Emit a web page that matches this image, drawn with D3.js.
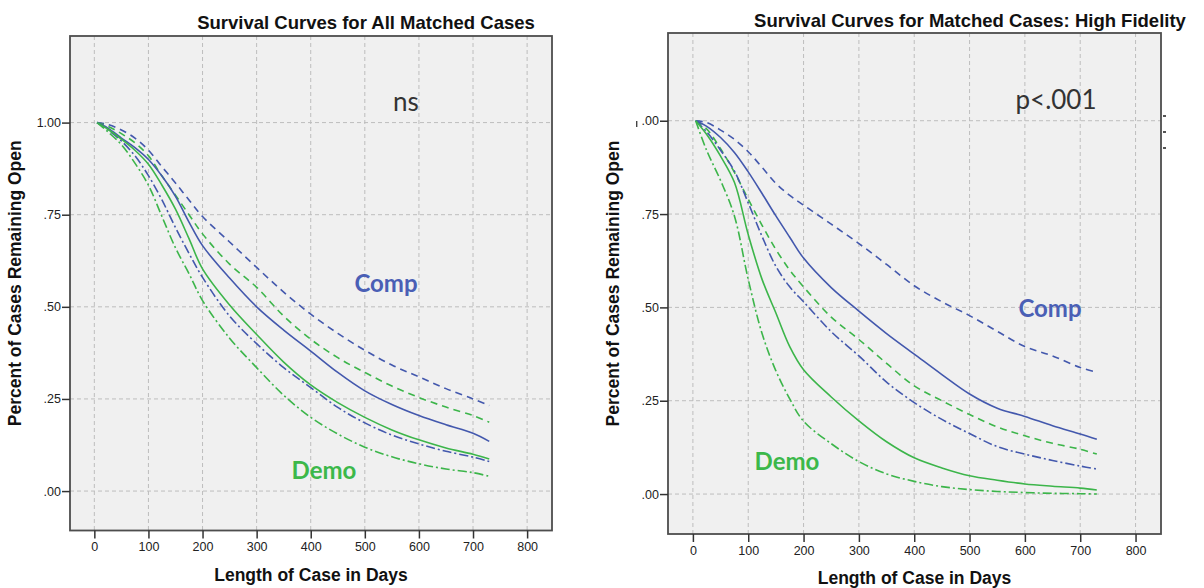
<!DOCTYPE html>
<html>
<head>
<meta charset="utf-8">
<script src="https://cdn.jsdelivr.net/npm/d3@7"></script>
<style>
  body { margin: 0; background: #fff; }
  svg { display: block; }
</style>
</head>
<body>
<div id="chart"></div>
<script>
var days = [5, 25, 50, 75, 100, 125, 150, 175, 200, 250, 300, 350, 400, 450, 500, 550, 600, 650, 700, 730]

// left panel: all matched cases
var allCompMid = [1, .985, .958, .932, .90, .855, .80, .73, .666, .578, .50, .437, .38, .322, .272, .235, .205, .18, .157, .135]
var allCompHi  = [1, .995, .98, .958, .925, .88, .836, .79, .745, .676, .607, .54, .48, .428, .382, .342, .31, .278, .25, .232]
var allCompLo  = [1, .98, .95, .91, .856, .79, .715, .645, .58, .475, .40, .335, .281, .227, .185, .152, .128, .108, .092, .08]
var allDemoMid = [1, .982, .955, .925, .887, .83, .765, .685, .603, .505, .425, .35, .288, .24, .20, .166, .139, .117, .10, .087]
var allDemoHi  = [1, .99, .97, .945, .91, .855, .803, .75, .698, .616, .553, .475, .412, .362, .322, .285, .254, .228, .205, .187]
var allDemoLo  = [1, .975, .94, .89, .83, .745, .66, .59, .517, .415, .335, .26, .20, .155, .119, .093, .074, .06, .05, .04]

// right panel: high fidelity
var hiCompMid = [1, .985, .955, .915, .863, .805, .745, .688, .632, .553, .49, .43, .375, .32, .268, .23, .208, .183, .161, .147]
var hiCompHi  = [1, .995, .975, .95, .917, .875, .832, .80, .774, .723, .671, .615, .558, .515, .478, .436, .395, .37, .339, .326]
var hiCompLo  = [1, .97, .921, .865, .78, .69, .61, .555, .515, .435, .37, .30, .245, .20, .162, .127, .107, .09, .075, .067]
var hiDemoMid = [1, .963, .905, .835, .695, .575, .485, .395, .333, .26, .196, .14, .097, .07, .049, .037, .027, .021, .016, .011]
var hiDemoHi  = [1, .978, .925, .862, .79, .72, .655, .60, .555, .474, .414, .35, .29, .25, .213, .18, .156, .136, .12, .107]
var hiDemoLo  = [1, .92, .84, .745, .575, .43, .33, .255, .195, .135, .087, .054, .034, .02, .012, .007, .004, .002, .001, 0]

var xTicks = [0, 100, 200, 300, 400, 500, 600, 700, 800]
var yTicks = [0, .25, .5, .75, 1]
var yTickText = ['.00', '.25', '.50', '.75', '1.00']

var blue = '#4358ad'
var green = '#3cb54a'

var svg = d3.select('#chart').append('svg')
    .attr('width', 1204)
    .attr('height', 588)

////////////////////////////////////////////////////////////////////////
/////  Function to draw one survival panel   ///////////////////////////
////////////////////////////////////////////////////////////////////////

makepanel = function(box, title, titlex, titley, note, series, comp, demo) {

  var x = d3.scaleLinear().domain([-45, 846]).range([box.x0, box.x1])
  var y = d3.scaleLinear().domain([-0.107, 1.235]).range([box.y1, box.y0])

  var g = svg.append('g')

  // plot background
  g.append('rect')
    .attr('x', box.x0)
    .attr('y', box.y0)
    .attr('width', box.x1 - box.x0)
    .attr('height', box.y1 - box.y0)
    .attr('fill', '#f0f0f0')

  // dashed grid
  g.selectAll('.vg').data(xTicks).enter().append('line')
    .attr('x1', d => x(d)).attr('x2', d => x(d))
    .attr('y1', box.y0).attr('y2', box.y1)
    .attr('stroke', '#bdbdbd').attr('stroke-width', 1)
    .attr('stroke-dasharray', '4,3')
  g.selectAll('.hg').data(yTicks).enter().append('line')
    .attr('x1', box.x0).attr('x2', box.x1)
    .attr('y1', d => y(d)).attr('y2', d => y(d))
    .attr('stroke', '#bdbdbd').attr('stroke-width', 1)
    .attr('stroke-dasharray', '4,3')

  // curves
  var line = d3.line()
    .x((d, i) => x(days[i]))
    .y(d => y(d))
    .curve(d3.curveCatmullRom.alpha(0.5))

  for (i in series) {
    g.append('path')
      .attr('d', line(series[i].vals))
      .attr('fill', 'none')
      .attr('stroke', series[i].col)
      .attr('stroke-width', 1.6)
      .attr('stroke-dasharray', series[i].dash)
  }

  // frame
  g.append('rect')
    .attr('x', box.x0)
    .attr('y', box.y0)
    .attr('width', box.x1 - box.x0)
    .attr('height', box.y1 - box.y0)
    .attr('fill', 'none')
    .attr('stroke', '#4d4d4d')
    .attr('stroke-width', 1.8)

  // axes
  var xAxis = g.append('g')
    .attr('transform', 'translate(0,' + box.y1 + ')')
    .call(d3.axisBottom(x).tickValues(xTicks).tickSize(8).tickSizeOuter(0).tickPadding(4))
  var yAxis = g.append('g')
    .attr('transform', 'translate(' + box.x0 + ',0)')
    .call(d3.axisLeft(y).tickValues(yTicks).tickSize(8).tickSizeOuter(0).tickPadding(1)
      .tickFormat((d, i) => yTickText[i]))

  ;[xAxis, yAxis].forEach(function(a) {
    a.select('.domain').remove()
    a.selectAll('line').attr('stroke', '#333').attr('stroke-width', 1.5)
    a.selectAll('text')
      .attr('fill', '#222')
      .attr('font-family', 'Liberation Sans, Arial, sans-serif')
      .attr('font-size', 12.5)
  })

  // titles
  g.append('text')
    .attr('x', titlex)
    .attr('y', titley)
    .attr('text-anchor', 'middle')
    .attr('font-family', 'Liberation Sans, Arial, sans-serif')
    .attr('font-weight', 'bold')
    .attr('font-size', 18.5)
    .attr('fill', '#111')
    .text(title)

  g.append('text')
    .attr('x', (box.x0 + box.x1) / 2)
    .attr('y', box.y1 + box.xt)
    .attr('text-anchor', 'middle')
    .attr('font-family', 'Liberation Sans, Arial, sans-serif')
    .attr('font-weight', 'bold')
    .attr('font-size', 17.5)
    .attr('fill', '#111')
    .text('Length of Case in Days')

  g.append('text')
    .attr('transform', 'translate(' + (box.x0 - 49) + ',' + ((box.y0 + box.y1) / 2) + ') rotate(-90)')
    .attr('text-anchor', 'middle')
    .attr('font-family', 'Liberation Sans, Arial, sans-serif')
    .attr('font-weight', 'bold')
    .attr('font-size', 17.5)
    .attr('fill', '#111')
    .text('Percent of Cases Remaining Open')

  // significance note
  g.append('text')
    .attr('x', note.x)
    .attr('y', note.y)
    .attr('text-anchor', 'middle')
    .attr('font-family', 'Lato, sans-serif')
    .attr('font-size', 26)
    .attr('fill', '#333')
    .text(note.t)

  // group labels
  g.append('text')
    .attr('x', comp.x).attr('y', comp.y)
    .attr('text-anchor', 'middle')
    .attr('font-family', 'Lato, sans-serif')
    .attr('font-weight', 'bold')
    .attr('font-size', 24)
    .attr('fill', '#4a5fb5')
    .text('Comp')
  g.append('text')
    .attr('x', demo.x).attr('y', demo.y)
    .attr('text-anchor', 'middle')
    .attr('font-family', 'Lato, sans-serif')
    .attr('font-weight', 'bold')
    .attr('font-size', 24)
    .attr('fill', '#3cb84a')
    .text('Demo')

  return g
}

var dashed = '7,5'
var dashdot = '9,3,2,3'

makepanel({x0: 70, x1: 552, y0: 36, y1: 530.5, xt: 50},
  'Survival Curves for All Matched Cases', 366, 29,
  {t: 'ns', x: 406, y: 111},
  [
    {vals: allCompHi, col: blue, dash: dashed},
    {vals: allDemoHi, col: green, dash: dashed},
    {vals: allCompLo, col: blue, dash: dashdot},
    {vals: allDemoLo, col: green, dash: dashdot},
    {vals: allCompMid, col: blue, dash: null},
    {vals: allDemoMid, col: green, dash: null}
  ],
  {x: 386, y: 292}, {x: 324, y: 479})

var right = makepanel({x0: 668, x1: 1161, y0: 33, y1: 534, xt: 50},
  'Survival Curves for Matched Cases: High Fidelity', 970, 27,
  {t: 'p<.001', x: 1056, y: 109},
  [
    {vals: hiCompHi, col: blue, dash: dashed},
    {vals: hiDemoHi, col: green, dash: dashed},
    {vals: hiCompLo, col: blue, dash: dashdot},
    {vals: hiDemoLo, col: green, dash: dashdot},
    {vals: hiCompMid, col: blue, dash: null},
    {vals: hiDemoMid, col: green, dash: null}
  ],
  {x: 1050, y: 317}, {x: 787, y: 470})

// the top tick label of the right panel is partly cut off in the source
right.selectAll('.tick text').filter(d => d == 1).text('.00')
svg.append('rect').attr('x', 636).attr('y', 121).attr('width', 1.4).attr('height', 6).attr('fill', '#444')

// remnants of a cut-off legend at the right edge
var marks = [116, 132, 148]
svg.selectAll('.mk').data(marks).enter().append('rect')
  .attr('x', 1163).attr('y', d => d - 1)
  .attr('width', 3).attr('height', 2)
  .attr('fill', '#555')
</script>
</body>
</html>
